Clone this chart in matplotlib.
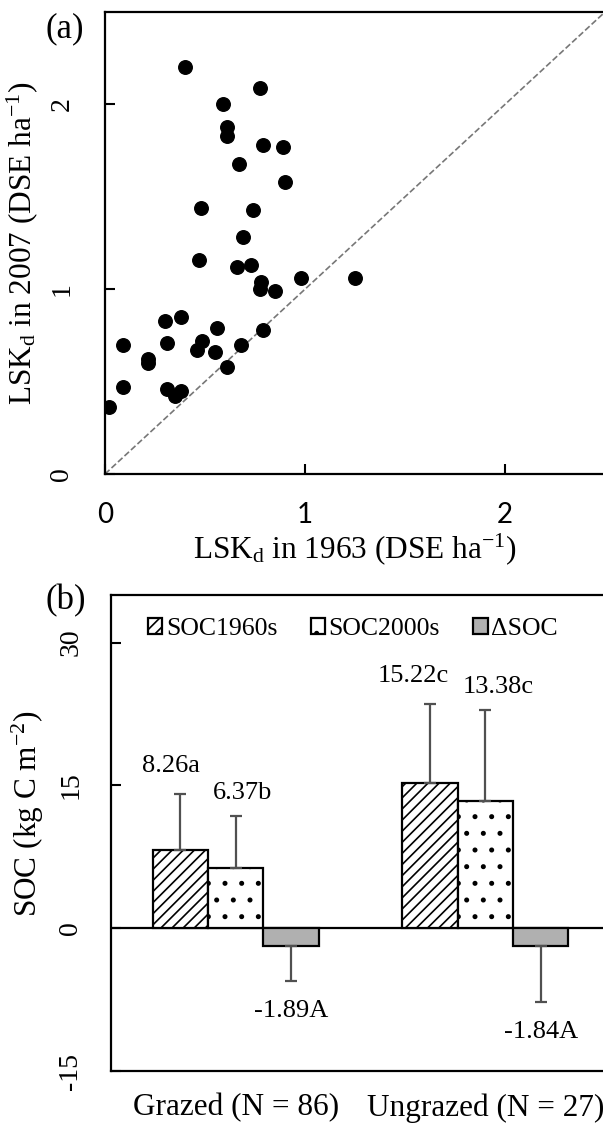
import numpy as np
import matplotlib.pyplot as plt

plt.rcParams['font.family'] = ['Liberation Serif', 'DejaVu Serif']
plt.rcParams['mathtext.fontset'] = 'custom'
plt.rcParams['mathtext.rm'] = 'Liberation Serif'
plt.rcParams['mathtext.it'] = 'Liberation Serif:italic'
plt.rcParams['hatch.linewidth'] = 1.2

# (a) livestock density, 1963 vs 2007
lsk_1963 = [0.40, 0.775, 0.59, 0.61, 0.61, 0.79, 0.89, 0.67, 0.90, 0.48,
            0.74, 0.69, 0.47, 0.66, 0.73, 0.98, 1.25, 0.78, 0.775, 0.85,
            0.30, 0.38, 0.56, 0.79, 0.09, 0.31, 0.485, 0.46, 0.55, 0.68,
            0.215, 0.215, 0.61, 0.09, 0.31, 0.38, 0.35, 0.02]
lsk_2007 = [2.20, 2.09, 2.00, 1.88, 1.83, 1.78, 1.77, 1.68, 1.58, 1.44,
            1.43, 1.28, 1.16, 1.12, 1.13, 1.06, 1.06, 1.04, 1.00, 0.99,
            0.83, 0.85, 0.79, 0.78, 0.70, 0.71, 0.72, 0.67, 0.66, 0.70,
            0.625, 0.60, 0.58, 0.47, 0.46, 0.45, 0.42, 0.36]

# (b) soil organic carbon
groups = ['Grazed (N = 86)', 'Ungrazed (N = 27)']
soc_1960s = [8.26, 15.22]
soc_2000s = [6.37, 13.38]
d_soc = [-1.89, -1.84]
err_1960s = [5.8, 8.3]
err_2000s = [5.4, 9.5]
err_dsoc = [3.7, 5.9]
lab_1960s = ['8.26a', '15.22c']
lab_2000s = ['6.37b', '13.38c']
lab_dsoc = ['-1.89A', '-1.84A']
soc_ticks = [-15, 0, 15, 30]
soc_ticklabels = ['-15', '0', '15', '30']

fig = plt.figure(figsize=(6.03, 11.24), dpi=100)

# ---------- (a) ----------
ax1 = fig.add_axes([105/603, 1-474/1124, 500/603, 462/1124])
ax1.plot([0, 2.5], [0, 2.5], '--', color='#777777', lw=1.2, zorder=1)
ax1.scatter(lsk_1963, lsk_2007, s=95, color='black', zorder=3)
ax1.set_xlim(0, 2.5)
ax1.set_ylim(0, 2.5)
ax1.set_xticks([0, 1, 2])
ax1.set_yticks([0, 1, 2])
ax1.tick_params(direction='in', length=7, width=1.5)
ax1.tick_params(axis='y', pad=22, labelsize=20, labelrotation=90)
ax1.tick_params(axis='x', pad=20, labelsize=20)
for t in ax1.get_yticklabels():
    t.set_va('center')
for t in ax1.get_xticklabels():
    t.set_family('Lato')
for s in ax1.spines.values():
    s.set_linewidth(1.6)
ax1.set_xlabel(r'LSK$_\mathrm{d}$ in 1963 (DSE ha$^{-1}$)', fontsize=22.5)
ax1.set_ylabel(r'LSK$_\mathrm{d}$ in 2007 (DSE ha$^{-1}$)', fontsize=22.5)
ax1.xaxis.set_label_coords(0.5, -0.124)
ax1.yaxis.set_label_coords(-0.13, 0.5)
fig.text(65/603, 1-29/1124, '(a)', fontsize=25, ha='center', va='center')

# ---------- (b) ----------
ax2 = fig.add_axes([111/603, 1-1071/1124, 499/603, 476/1124])
x = np.arange(len(groups))
w = 0.222
ekw = dict(ecolor='#505050', elinewidth=1.6, capsize=4, capthick=1.6)
b1 = ax2.bar(x - w, soc_1960s, w, color='white', edgecolor='black', lw=1.6,
             hatch='///', label='SOC1960s',
             yerr=[[0, 0], err_1960s], error_kw=ekw)
b2 = ax2.bar(x, soc_2000s, w, color='white', edgecolor='black', lw=1.6,
             hatch='.', label='SOC2000s',
             yerr=[[0, 0], err_2000s], error_kw=ekw)
b3 = ax2.bar(x + w, d_soc, w, color='#b0b0b0', edgecolor='black', lw=1.6,
             label='\u0394SOC',
             yerr=[err_dsoc, [0, 0]], error_kw=ekw)
ax2.axhline(0, color='black', lw=1.6, zorder=0)

for i in range(len(groups)):
    ax2.annotate(lab_1960s[i], (x[i] - w, soc_1960s[i] + err_1960s[i]),
                 xytext=(14, 20.5), textcoords='offset points',
                 ha='right', va='center', fontsize=19)
    ax2.annotate(lab_2000s[i], (x[i], soc_2000s[i] + err_2000s[i]),
                 xytext=(-16.5, 16.5), textcoords='offset points',
                 ha='left', va='center', fontsize=19)
    ax2.annotate(lab_dsoc[i], (x[i] + w, d_soc[i] - err_dsoc[i]),
                 xytext=(0, -21.5), textcoords='offset points',
                 ha='center', va='center', fontsize=19)

ax2.set_xlim(-0.5, 1.5)
ax2.set_ylim(-15, 35)
ax2.set_yticks(soc_ticks)
ax2.set_yticklabels(soc_ticklabels)
ax2.set_xticks(x)
ax2.set_xticklabels(groups)
ax2.tick_params(axis='y', direction='in', length=7, width=1.5, pad=20,
                labelsize=20, labelrotation=90)
ax2.tick_params(axis='x', length=0, pad=16, labelsize=22.5)
for t in ax2.get_yticklabels():
    t.set_va('center')
for s in ax2.spines.values():
    s.set_linewidth(1.6)
ax2.set_ylabel('SOC (kg C m$^{\\mathrm{-2}}$)', fontsize=22.5)
ax2.yaxis.set_label_coords(-0.13, 0.54)
ax2.legend(loc='upper center', bbox_to_anchor=(0.485, 1.0), ncol=3,
           frameon=False, fontsize=18.5, handlelength=0.55, handleheight=0.55,
           handletextpad=0.15, columnspacing=1.3, borderaxespad=0.5)
fig.text(66/603, 1-601/1124, '(b)', fontsize=25, ha='center', va='center')

fig.savefig('out.png', dpi=100)
